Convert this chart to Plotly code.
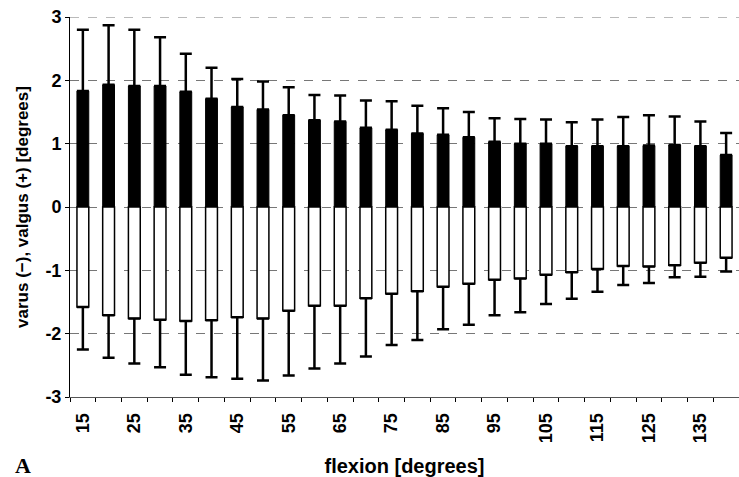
import plotly.graph_objects as go

flexion = [str(v) for v in range(15, 145, 5)]
valgus_mean = [1.83, 1.93, 1.91, 1.91, 1.82, 1.71, 1.58, 1.54, 1.45, 1.37, 1.35, 1.25, 1.22,
               1.16, 1.14, 1.10, 1.03, 1.00, 1.00, 0.96, 0.96, 0.96, 0.97, 0.98, 0.96, 0.82]
valgus_top = [2.80, 2.87, 2.80, 2.68, 2.42, 2.20, 2.02, 1.98, 1.89, 1.77, 1.76, 1.68, 1.67,
              1.60, 1.56, 1.50, 1.40, 1.39, 1.38, 1.34, 1.38, 1.42, 1.45, 1.43, 1.35, 1.17]
varus_mean = [-1.58, -1.71, -1.76, -1.78, -1.80, -1.79, -1.74, -1.76, -1.64, -1.56, -1.56, -1.44, -1.37,
              -1.33, -1.26, -1.21, -1.15, -1.13, -1.07, -1.03, -0.98, -0.93, -0.94, -0.92, -0.88, -0.80]
varus_bottom = [-2.25, -2.38, -2.47, -2.53, -2.65, -2.69, -2.71, -2.74, -2.66, -2.55, -2.47, -2.36, -2.18,
                -2.10, -1.93, -1.86, -1.71, -1.66, -1.53, -1.45, -1.34, -1.23, -1.20, -1.11, -1.10, -1.02]
tick_text = [c if i % 2 == 0 else "" for i, c in enumerate(flexion)]
y_ticks = [-3, -2, -1, 0, 1, 2, 3]

val_err = [t - m for t, m in zip(valgus_top, valgus_mean)]
var_err = [m - b for m, b in zip(varus_mean, varus_bottom)]

FONT = "Liberation Sans, Arial, sans-serif"

fig = go.Figure()
fig.add_trace(go.Bar(
    x=flexion, y=valgus_mean, width=0.46,
    marker=dict(color="black", line=dict(color="black", width=1)),
    error_y=dict(type="data", array=val_err, arrayminus=[0] * len(val_err), symmetric=False,
                 color="black", thickness=2.5, width=6),
    showlegend=False,
))
fig.add_trace(go.Bar(
    x=flexion, y=varus_mean, width=0.46,
    marker=dict(color="white", line=dict(color="black", width=1.5)),
    error_y=dict(type="data", array=[0] * len(var_err), arrayminus=var_err, symmetric=False,
                 color="black", thickness=2.5, width=6),
    showlegend=False,
))

fig.update_layout(
    width=739, height=477,
    margin=dict(l=70, r=0, t=17, b=80),
    paper_bgcolor="white", plot_bgcolor="white",
    barmode="overlay",
    font=dict(family=FONT, color="black"),
    xaxis=dict(
        type="category", tickmode="array", tickvals=flexion, ticktext=tick_text,
        tickangle=-90, tickfont=dict(size=18, family=FONT, weight="bold"),
        ticks="outside", ticklen=4, tickcolor="black", tickson="boundaries",
        ticklabelstandoff=8,
        showline=True, linecolor="#555", linewidth=1, showgrid=False,
        automargin=False,
        title=dict(text="<b>flexion [degrees]</b>", font=dict(size=20), standoff=16),
        range=[-0.5, 25.5],
    ),
    yaxis=dict(
        range=[-3, 3], tickvals=y_ticks, ticktext=[str(v) for v in y_ticks],
        tickfont=dict(size=18, family=FONT, weight="bold"),
        ticks="outside", ticklen=4, tickcolor="black",
        showline=True, linecolor="black", linewidth=1,
        showgrid=True, gridcolor="#777", griddash="dash", gridwidth=1,
        zeroline=False, automargin=False,
        title=dict(text="<b>varus (−), valgus (+) [degrees]</b>", font=dict(size=17), standoff=12),
    ),
)
fig.add_shape(type="line", xref="paper", yref="y", x0=0, x1=1, y0=3, y1=3,
              line=dict(color="#777", width=1, dash="dash"), layer="below")
fig.add_annotation(text="<b>A</b>", xref="paper", yref="paper", x=-0.085, y=-0.18,
                   xanchor="left", yanchor="middle", showarrow=False,
                   font=dict(family="Liberation Serif, Times New Roman, serif", size=22))
fig.write_html("out.html", config={"displayModeBar": False},
               post_script="document.body.style.margin='0';document.body.style.overflow='hidden';")
